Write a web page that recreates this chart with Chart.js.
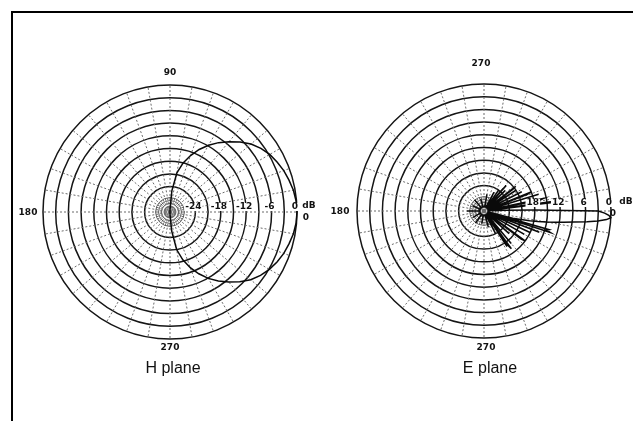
<!DOCTYPE html>
<html><head><meta charset="utf-8">
<script src="https://cdn.jsdelivr.net/npm/chart.js@4/dist/chart.umd.min.js"></script>
<style>
html,body{margin:0;padding:0;background:#fff;overflow:hidden;width:633px;height:421px;position:relative;}
.box{position:absolute;width:320px;height:320px;}
#frame{position:absolute;left:11px;top:11px;width:700px;height:500px;border-top:2px solid #000;border-left:2px solid #000;}
.cap{position:absolute;font:16px "Liberation Sans",Arial,sans-serif;color:#111;transform:translateX(-50%);white-space:nowrap;}
</style></head><body>
<div id="frame"></div>
<div class="box" style="left:10px;top:52px"><canvas id="hc" width="320" height="320"></canvas></div>
<div class="box" style="left:324px;top:51px"><canvas id="ec" width="320" height="320"></canvas></div>
<div class="cap" style="left:173px;top:359px">H plane</div>
<div class="cap" style="left:490px;top:359px">E plane</div>
<script>
// ---- data ----
// H plane: dB every 5 deg, counter-clockwise from 0 deg (right)
const hPlaneDb = [
  0, -0.1, -0.4, -0.9, -1.4, -2.1, -2.8, -3.8, -5.0, -6.6, -8.3, -10.0, -11.8, -13.7, -15.8, -18.0, -20.6, -25.0, -29.5,
  -30, -30, -30, -30, -30, -30, -30, -30, -30, -30, -30, -30, -30, -30, -30, -30, -30, -30,
  -30, -30, -30, -30, -30, -30, -30, -30, -30, -30, -30, -30, -30, -30, -30, -30, -30,
  -29.5, -25.5, -21.0, -18.3, -16.0, -13.9, -11.9, -10.1, -8.4, -6.7, -5.1, -3.9, -2.9, -2.1, -1.4, -0.9, -0.4, -0.1
];
// E plane: lobes [angle deg (clockwise from right), dB]; other directions stay at the floor level
const ePlaneFloorDb = -29;
const ePlaneLobes = [
  [-55,-24],[-49,-22],[-44,-23],[-38,-20.5],[-37,-21.5],[-33,-21],[-27,-20],[-22,-18],[-21,-19],[-17,-16.5],[-12,-15.5],[-11,-16.5],[-8,-12],[-7,-11],
  [-2,-25],[-1,-18],[0,-3],[1,-1.5],[2,-0.5],[3,0],[4,-1],[5,-3],[6,-5.5],[7,-8.5],[8,-11],[9,-13],[10,-15],[11,-17],[12,-19],[13,-21],[14,-23],
  [16,-14],[17,-14.5],[18,-13.5],[21,-16],[25,-18],[30,-19],[36,-18],[37,-19],[42,-22],[50,-20],[54,-19],[55,-20],[57,-20],[63,-24],
  [75,-26],[100,-27],[125,-26.5],[150,-27],[180,-26],[205,-27],[230,-26.5],[255,-27],[280,-26],[298,-25],[310,-24]
];
const ringDb = [-30, -29.6, -29.2, -28.6, -28, -27.3, -26.6, -24, -21, -18, -15, -12, -9, -6, -3, 0];
const hTickLabels = ['-24', '-18', '-12', '-6', '0'];
const hTickDb = [-24, -18, -12, -6, 0];
const eTickLabels = ['18', '12', '6', '0'];
const eTickDb = [-18, -12, -6, 0];
const hAxisLabels = ['90', '180', '270', 'dB', '0'];
const eAxisLabels = ['270', '180', '270', 'dB', '0'];

// ---- build ----
const hAngles = Array.from({length: 72}, (_, i) => i * 5);   // clockwise from right
const eAngles = Array.from({length: 360}, (_, i) => i);
const hData = hAngles.map((a, i) => hPlaneDb[(72 - i) % 72]);
const eData = eAngles.map(a => {
  const hit = ePlaneLobes.find(l => ((l[0] % 360) + 360) % 360 === a);
  return hit ? hit[1] : ePlaneFloorDb;
});

const textPlugin = {
  id: 'polarText',
  afterDraw(chart, args, o) {
    const s = chart.scales.r, ctx = chart.ctx;
    const cx = s.xCenter, cy = s.yCenter, R = s.drawingArea;
    ctx.save();
    ctx.font = 'bold 9px "DejaVu Sans", sans-serif';
    ctx.textAlign = 'center';
    ctx.textBaseline = 'middle';
    o.tickDb.forEach((v, i) => {
      const x = cx + s.getDistanceFromCenterForValue(v) - 2;
      const y = cy + o.tickDy;
      const w = ctx.measureText(o.tickText[i]).width;
      ctx.fillStyle = '#fff';
      ctx.fillRect(x - w / 2 - 1, y - 4, w + 2, 8);
      ctx.fillStyle = '#111';
      ctx.fillText(o.tickText[i], x, y);
    });
    const L = o.axisText;
    ctx.fillStyle = '#111';
    ctx.fillText(L[0], cx + o.topDx, cy - R - o.topGap);
    ctx.fillText(L[1], cx - R - o.leftGap, cy + 1);
    ctx.fillText(L[2], cx + o.botDx, cy + R + o.botGap);
    ctx.fillText(L[3], cx + R + o.dbDx, cy + o.tickDy - 1);
    ctx.fillText(L[4], cx + R + o.zeroDx, cy + o.tickDy + 11);
    ctx.restore();
  }
};

function makeChart(id, labels, data, spokeEvery, textOpts) {
  return new Chart(document.getElementById(id), {
    type: 'radar',
    data: { labels, datasets: [{ data, borderColor: '#0a0a0a', borderWidth: 1.5, pointRadius: 0, fill: false, tension: 0 }] },
    options: {
      responsive: false, animation: false,
      layout: { padding: 33 },
      plugins: { legend: { display: false }, tooltip: { enabled: false }, polarText: textOpts },
      scales: { r: {
        min: -30, max: 0, startAngle: 90,
        afterBuildTicks: (sc) => { sc.ticks = ringDb.map(v => ({ value: v })); },
        ticks: { display: false },
        pointLabels: { display: false },
        grid: { circular: true,
          color: c => (c.tick && c.tick.value < -26) ? '#555' : '#151515',
          lineWidth: c => (c.tick && c.tick.value < -26) ? 1 : 1.5 },
        angleLines: { color: '#6a6a6a', borderDash: [2, 2],
          lineWidth: c => (c.index % spokeEvery === 0 ? 1 : 0) }
      } }
    },
    plugins: [textPlugin]
  });
}

makeChart('hc', hAngles, hData, 2, {
  tickDb: hTickDb, tickText: hTickLabels, tickDy: -5, axisText: hAxisLabels,
  topDx: 0, topGap: 12, leftGap: 15, botDx: 0, botGap: 9, dbDx: 12, zeroDx: 9
});
makeChart('ec', eAngles, eData, 10, {
  tickDb: eTickDb, tickText: eTickLabels, tickDy: -8, axisText: eAxisLabels,
  topDx: -3, topGap: 20, leftGap: 17, botDx: 2, botGap: 10, dbDx: 15, zeroDx: 2
});
</script>
</body></html>
